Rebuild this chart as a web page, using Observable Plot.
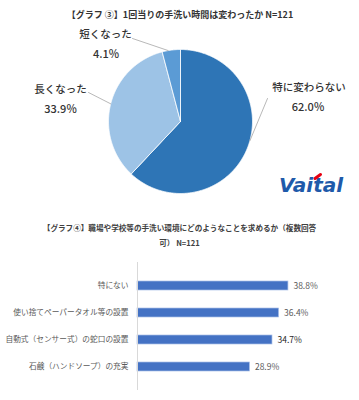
<!DOCTYPE html>
<html><head><meta charset="utf-8">
<script src="https://cdn.jsdelivr.net/npm/d3@7"></script>
<script src="https://cdn.jsdelivr.net/npm/@observablehq/plot@0.6"></script>
<style>
body{margin:0;background:#fff;font-family:"Noto Sans CJK JP",sans-serif;}
#wrap{position:relative;width:359px;height:400px;overflow:hidden;background:#fff;}
#pie{position:absolute;left:0;top:0;}
#bars{position:absolute;left:0;top:250px;}
.t2{position:absolute;left:0;width:359px;text-align:center;font-weight:bold;font-size:7.6px;line-height:10px;color:#404040;white-space:nowrap;}
</style></head><body>
<div id="wrap">
<div id="pie"></div>
<div class="t2" id="t2a" style="top:223px"></div>
<div class="t2" id="t2b" style="top:238px"></div>
<div id="bars"></div>
</div>
<script>
// ---- data ----
const pieTitle = "【グラフ ③】1回当りの手洗い時間は変わったか N=121";
const pieCategories = ["特に変わらない", "長くなった", "短くなった"];
const pieValues = [62.0, 33.9, 4.1];
const pieColors = ["#2E75B6", "#9DC3E6", "#5B9BD5"];
const logoText = "Vaital";

const barTitleLine1 = "【グラフ④】職場や学校等の手洗い環境にどのようなことを求めるか（複数回答";
const barTitleLine2 = "可） N=121";
const barCategories = ["特にない", "使い捨てペーパータオル等の設置", "自動式（センサー式）の蛇口の設置", "石鹸（ハンドソープ）の充実"];
const barValues = [38.8, 36.4, 34.7, 28.9];
const barHighlight = "自動式（センサー式）の蛇口の設置";

// ---- pie ----
const font = "Noto Sans CJK JP";
const CX = 180, CY = 121, R = 72;            // layout of the pie in the picture
const toU = (px, py) => [(px - CX) / R, (CY - py) / R];

const arcs = d3.pie().sort(null).value(d => d)(pieValues);
const piePts = [];
arcs.forEach((a, i) => {
  const cat = pieCategories[i];
  piePts.push({cat, x: 0, y: 0});
  const n = Math.max(4, Math.ceil((a.endAngle - a.startAngle) / 0.01));
  for (let k = 0; k <= n; k++) {
    const t = a.startAngle + (a.endAngle - a.startAngle) * k / n;
    piePts.push({cat, x: Math.sin(t), y: Math.cos(t)});
  }
  piePts.push({cat, x: 0, y: 0});
});

// label layout (pixel positions of name/percent, leader start, leader angle tweak)
const labelLayout = [
  {name: [308.5, 87.5], pct: [307.5, 107], lead: [267, 98], ang: -6},
  {name: [60, 89], pct: [60, 108.5], lead: [88, 92], ang: 0},
  {name: [105, 34.5], pct: [105.5, 54], lead: [132, 38], ang: -2.5}
];
const labels = [], leaders = [];
arcs.forEach((a, i) => {
  const L = labelLayout[i];
  const [nx, ny] = toU(...L.name), [px, py] = toU(...L.pct), [lx, ly] = toU(...L.lead);
  labels.push({x: nx, y: ny, t: pieCategories[i], kind: "name"});
  labels.push({x: px, y: py, t: pieValues[i].toFixed(1) + "%", kind: "pct"});
  const mid = (a.startAngle + a.endAngle) / 2 + L.ang * Math.PI / 180;
  leaders.push({k: i, x: lx, y: ly});
  leaders.push({k: i, x: Math.sin(mid), y: Math.cos(mid)});
});

const W = 359, H1 = 200;
const logoPos = toU(310.5, 185);
const accent = [{x: toU(314.5, 178)[0], y: toU(314.5, 178)[1]}, {x: toU(320, 174)[0], y: toU(320, 174)[1]}];
const pie = Plot.plot({
  width: W, height: H1, margin: 0,
  x: {domain: [-CX / R, (W - CX) / R], axis: null},
  y: {domain: [-(H1 - CY) / R, CY / R], axis: null},
  color: {domain: pieCategories, range: pieColors},
  style: {fontFamily: font, background: "white"},
  marks: [
    Plot.line(piePts, {x: "x", y: "y", z: "cat", fill: "cat", stroke: "white", strokeWidth: 0.8, curve: "linear"}),
    Plot.line(leaders, {x: "x", y: "y", z: "k", stroke: "#a6a6a6", strokeWidth: 0.8}),
    Plot.text(labels, {x: "x", y: "y", text: "t", fill: "#333", fontWeight: 500,
      fontSize: d => d.kind === "pct" ? 11 : 10.5}),
    Plot.text([pieTitle], {frameAnchor: "top", dy: 15, lineAnchor: "middle", fontWeight: "bold", fontSize: 9, fill: "#333"}),
    Plot.text([logoText], {x: logoPos[0], y: logoPos[1], text: d => d, fontSize: 20, fontWeight: "bold",
      fontStyle: "italic", fill: "#1F5AAA", fontFamily: "DejaVu Sans", letterSpacing: "-0.5px"}),
    Plot.line(accent, {x: "x", y: "y", stroke: "#E60012", strokeWidth: 3})
  ]
});
document.getElementById("pie").append(pie);

// ---- bars ----
document.getElementById("t2a").textContent = barTitleLine1;
document.getElementById("t2b").textContent = barTitleLine2;
const barData = barCategories.map((c, i) => ({c, v: barValues[i]}));
const bars = Plot.plot({
  width: W, height: 150,
  marginTop: 12, marginBottom: 10, marginLeft: 137, marginRight: 27.5,
  x: {domain: [0, 50], axis: null},
  y: {domain: barCategories, padding: 0.67, axis: null},
  style: {fontFamily: font, background: "white"},
  marks: [
    Plot.barX(barData, {x: "v", y: "c", fill: "#4472C4", stroke: "#a9bfe8", strokeWidth: 0.7}),
    Plot.ruleX([0], {stroke: "#d9d9d9", strokeWidth: 1}),
    Plot.axisY({tickSize: 0, tickPadding: 9, fontSize: 7.7, fill: "#595959", label: null}),
    Plot.text(barData, {x: "v", y: "c", text: d => d.v.toFixed(1) + "%", dx: 5, textAnchor: "start", fontSize: 8.5,
      fill: d => d.c === barHighlight ? "#262626" : "#595959",
      fontWeight: d => d.c === barHighlight ? "bold" : "normal"})
  ]
});
document.getElementById("bars").append(bars);
</script>
</body></html>
